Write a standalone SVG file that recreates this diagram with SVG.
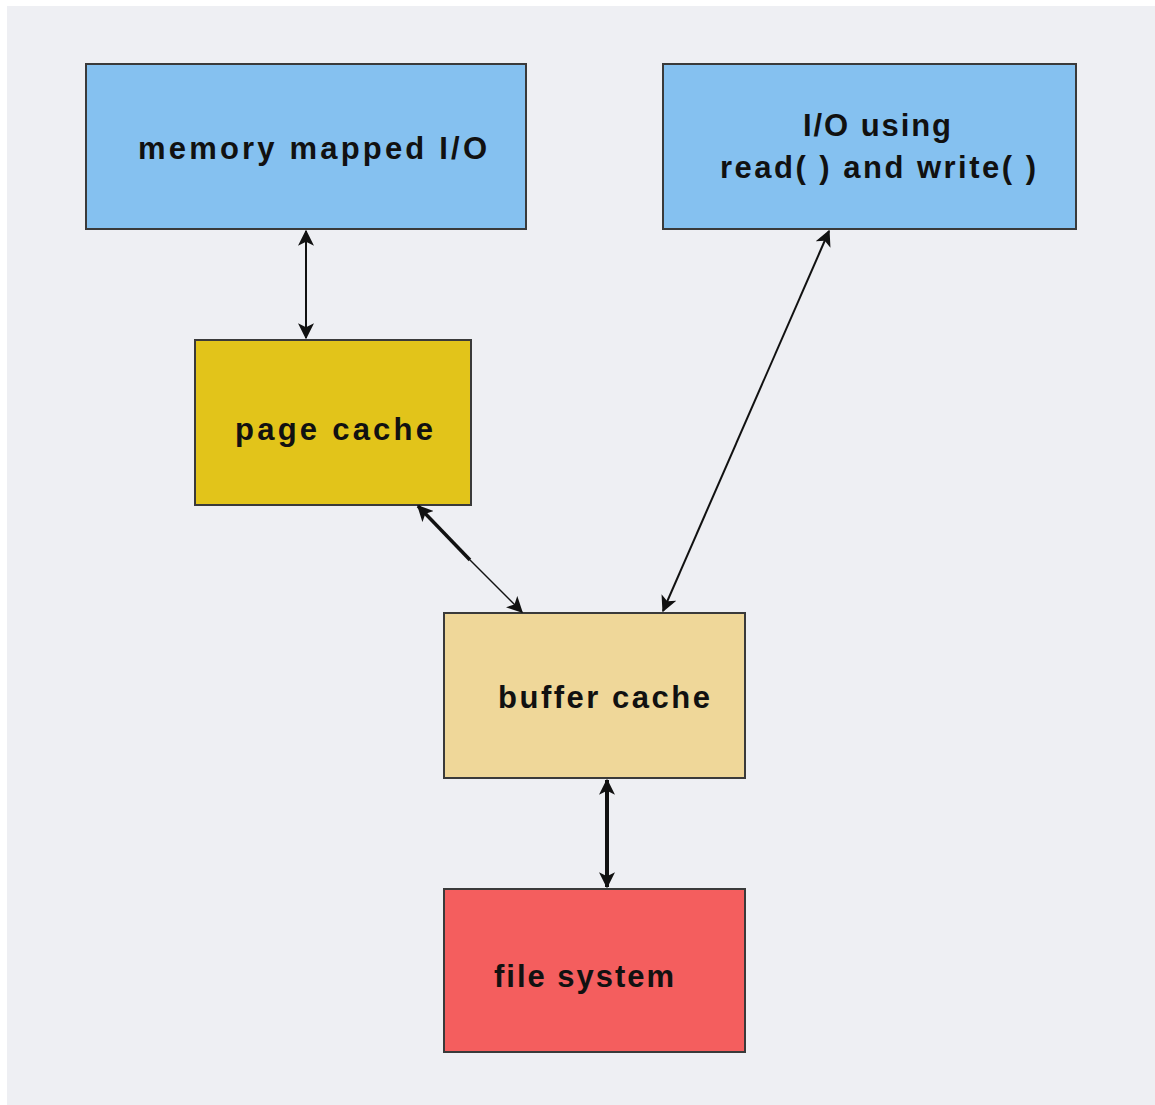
<svg xmlns="http://www.w3.org/2000/svg" width="1155" height="1105" viewBox="0 0 1155 1105">
<defs>
<style>
.box{stroke:#3a3a3a;stroke-width:2}
.lbl{font-family:"Liberation Sans",Arial,sans-serif;font-weight:bold;font-size:31px;fill:#111}
.ln{stroke:#111;fill:none}
</style>
<marker id="ah" viewBox="0 0 12 12" refX="11" refY="6" markerWidth="16" markerHeight="16" markerUnits="userSpaceOnUse" orient="auto-start-reverse">
<path d="M0,0 L12,6 L0,12 L3,6 Z" fill="#111"/>
</marker>
</defs>
<rect x="0" y="0" width="1155" height="1105" fill="#ffffff"/>
<rect x="7" y="6" width="1148" height="1099" fill="#eeeff3"/>
<g id="n-mmap">
<rect class="box" x="86" y="64" width="440" height="165" fill="#85c1f0"/>
<text class="lbl" x="138" y="159" textLength="349" lengthAdjust="spacing">memory mapped I/O</text>
</g>
<g id="n-rw">
<rect class="box" x="663" y="64" width="413" height="165" fill="#85c1f0"/>
<text class="lbl" x="803" y="136" textLength="148" lengthAdjust="spacing">I/O using</text>
<text class="lbl" x="720" y="178" textLength="316" lengthAdjust="spacing">read( ) and write( )</text>
</g>
<g id="n-page">
<rect class="box" x="195" y="340" width="276" height="165" fill="#e2c41a"/>
<text class="lbl" x="235" y="440" textLength="198" lengthAdjust="spacing">page cache</text>
</g>
<g id="n-buffer">
<rect class="box" x="444" y="613" width="301" height="165" fill="#efd799"/>
<text class="lbl" x="498" y="708" textLength="212" lengthAdjust="spacing">buffer cache</text>
</g>
<g id="n-fs">
<rect class="box" x="444" y="889" width="301" height="163" fill="#f45e5e"/>
<text class="lbl" x="494" y="987" textLength="180" lengthAdjust="spacing">file system</text>
</g>
<g id="connectors">
<line class="ln" x1="306" y1="231" x2="306" y2="338" stroke-width="2" marker-start="url(#ah)" marker-end="url(#ah)"/>
<line class="ln" x1="470" y1="560" x2="418" y2="506" stroke-width="3.5" marker-end="url(#ah)"/>
<line class="ln" x1="470" y1="560" x2="522" y2="612" stroke-width="1.5" marker-end="url(#ah)"/>
<line class="ln" x1="829" y1="231" x2="663" y2="611" stroke-width="2" marker-start="url(#ah)" marker-end="url(#ah)"/>
<line class="ln" x1="607" y1="780" x2="607" y2="887" stroke-width="4" marker-start="url(#ah)" marker-end="url(#ah)"/>
</g>
</svg>
